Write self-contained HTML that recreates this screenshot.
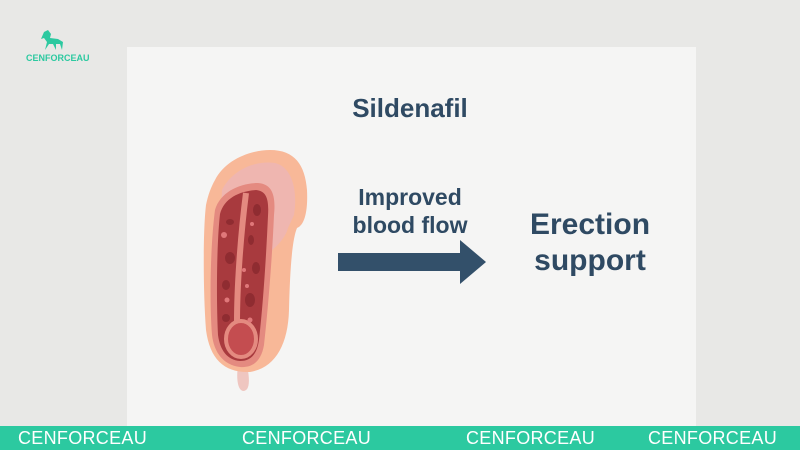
<!DOCTYPE html>
<html><head><style>
body{margin:0;width:800px;height:450px;background:#e8e8e6;position:relative;overflow:hidden;font-family:"Liberation Sans",sans-serif}
.card{position:absolute;left:127px;top:47px;width:569px;height:379px;background:#f5f5f4}
.t{position:absolute;color:#2f4a63;font-weight:bold;text-align:center}
.band{position:absolute;left:0;top:426px;width:800px;height:24px;background:#2cc9a0}
.band span{position:absolute;top:2px;color:#fff;font-size:18px;letter-spacing:0.3px}
</style></head><body>
<div class="card"></div>
<svg style="position:absolute;left:38px;top:30px" width="30" height="22" viewBox="0 0 30 22"><path d="M6 2 L10 0 L13 4 L12 8 L20 9 L25 12 L24 20 L22 14 L18 14 L18 20 L15 14 L11 14 L7 20 L9 12 L6 8 L3 9 Z" fill="#2cc9a0"/></svg>
<div style="position:absolute;left:26px;top:53px;font-size:9px;font-weight:bold;color:#2cc9a0">CENFORCEAU</div>
<div class="t" style="left:330px;top:93px;width:160px;font-size:26px">Sildenafil</div>
<div class="t" style="left:330px;top:183px;width:160px;font-size:23px;line-height:28px">Improved<br>blood flow</div>
<div class="t" style="left:510px;top:207px;width:160px;font-size:30px;line-height:36px">Erection<br>support</div>
<svg style="position:absolute;left:0;top:0" width="800" height="450">
<polygon points="338,253 460,253 460,240 486,262 460,284 460,271 338,271" fill="#33506a"/>
<path d="M238,365 C236,380 238,390 243,391 C250,391 250,380 247,365 Z" fill="#efc6c0"/>
<path d="M215,180 C225,160 250,150 270,150 C295,150 305,165 307,190 C308,210 305,225 297,228 C292,240 290,270 289,310 C288,345 275,368 250,372 C225,373 210,360 206,330 C203,290 203,230 206,205 C208,195 211,187 215,180 Z" fill="#f8b898"/>
<path d="M222,190 C232,170 255,160 275,163 C292,167 298,190 294,215 L288,228 C285,240 270,255 255,260 L220,230 Z" fill="#efb6b0"/>
<path d="M215,210 C220,192 240,183 258,183 C272,184 276,195 274,215 C272,260 268,310 264,345 C261,362 252,368 240,367 C223,365 214,352 212,335 C209,295 211,240 215,210 Z" fill="#e48a80"/>
<path d="M220,214 C224,198 240,191 256,190 C267,191 269,200 268,216 C266,260 263,305 259,340 C257,355 250,361 240,361 C227,360 220,350 218,335 C216,295 217,240 220,214 Z" fill="#a83a3e"/>
<path d="M246,193 C240,240 237,290 237,322" stroke="#e48a80" stroke-width="6" fill="none"/>
<ellipse cx="241" cy="339" rx="15" ry="18" fill="#c44d50" stroke="#e48a80" stroke-width="4"/>
<g fill="#8f2c31"><ellipse cx="257" cy="210" rx="4" ry="6"/><ellipse cx="251" cy="240" rx="3" ry="5"/><ellipse cx="256" cy="268" rx="4" ry="6"/><ellipse cx="230" cy="258" rx="5" ry="6"/><ellipse cx="226" cy="285" rx="4" ry="5"/><ellipse cx="250" cy="300" rx="5" ry="7"/><ellipse cx="226" cy="318" rx="4" ry="4"/><ellipse cx="230" cy="222" rx="4" ry="3"/></g>
<g fill="#e0787a"><circle cx="224" cy="235" r="3"/><circle cx="252" cy="224" r="2"/><circle cx="244" cy="270" r="2"/><circle cx="247" cy="286" r="2"/><circle cx="227" cy="300" r="2.5"/><circle cx="250" cy="320" r="2.5"/></g>
</svg>
<div class="band"><span style="left:18px">CENFORCEAU</span><span style="left:242px">CENFORCEAU</span><span style="left:466px">CENFORCEAU</span><span style="left:648px">CENFORCEAU</span></div>
</body></html>
